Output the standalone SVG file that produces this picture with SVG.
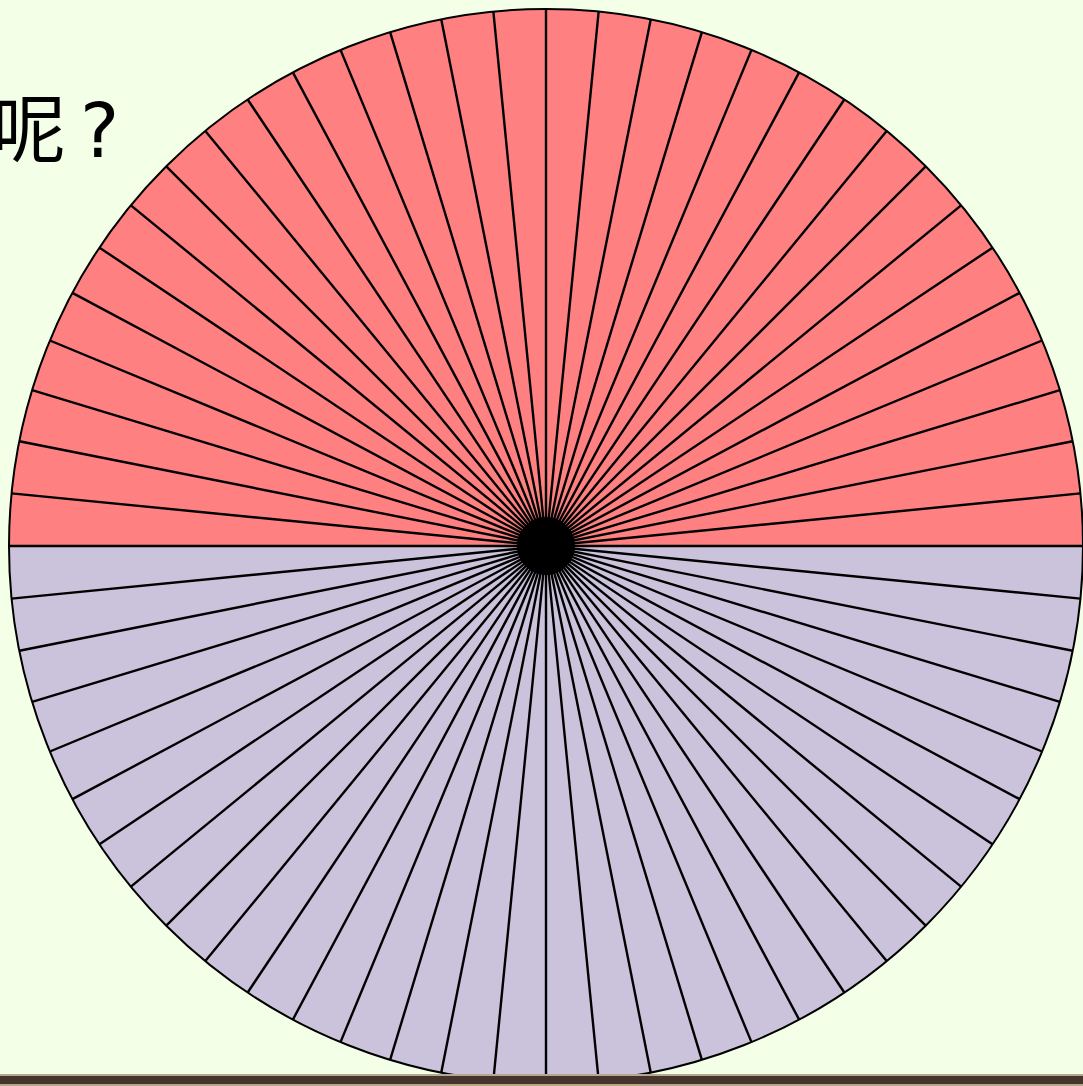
<svg xmlns="http://www.w3.org/2000/svg" width="1083" height="1086" viewBox="0 0 1083 1086">
<style>
.spoke{stroke:#000;stroke-width:2.4}
</style>
<rect width="1083" height="1086" fill="#F4FFE8"/>
<text x="66" y="156" text-anchor="end" font-family="Noto Sans CJK SC, sans-serif" font-size="74" fill="#000">呢</text>
<text x="80" y="157" font-family="DejaVu Sans, sans-serif" font-size="74" fill="#000">?</text>
<g id="circle">
<path d="M9 546 A537 537 0 0 1 1083 546 Z" fill="#FF8080"/>
<path d="M9 546 A537 537 0 0 0 1083 546 Z" fill="#CBC3DB"/>
<g class="spoke">
<line x1="9" y1="546" x2="1083" y2="546"/>
<line x1="9" y1="546" x2="1083" y2="546" transform="rotate(5.625 546 546)"/>
<line x1="9" y1="546" x2="1083" y2="546" transform="rotate(11.25 546 546)"/>
<line x1="9" y1="546" x2="1083" y2="546" transform="rotate(16.875 546 546)"/>
<line x1="9" y1="546" x2="1083" y2="546" transform="rotate(22.5 546 546)"/>
<line x1="9" y1="546" x2="1083" y2="546" transform="rotate(28.125 546 546)"/>
<line x1="9" y1="546" x2="1083" y2="546" transform="rotate(33.75 546 546)"/>
<line x1="9" y1="546" x2="1083" y2="546" transform="rotate(39.375 546 546)"/>
<line x1="9" y1="546" x2="1083" y2="546" transform="rotate(45 546 546)"/>
<line x1="9" y1="546" x2="1083" y2="546" transform="rotate(50.625 546 546)"/>
<line x1="9" y1="546" x2="1083" y2="546" transform="rotate(56.25 546 546)"/>
<line x1="9" y1="546" x2="1083" y2="546" transform="rotate(61.875 546 546)"/>
<line x1="9" y1="546" x2="1083" y2="546" transform="rotate(67.5 546 546)"/>
<line x1="9" y1="546" x2="1083" y2="546" transform="rotate(73.125 546 546)"/>
<line x1="9" y1="546" x2="1083" y2="546" transform="rotate(78.75 546 546)"/>
<line x1="9" y1="546" x2="1083" y2="546" transform="rotate(84.375 546 546)"/>
<line x1="9" y1="546" x2="1083" y2="546" transform="rotate(90 546 546)"/>
<line x1="9" y1="546" x2="1083" y2="546" transform="rotate(95.625 546 546)"/>
<line x1="9" y1="546" x2="1083" y2="546" transform="rotate(101.25 546 546)"/>
<line x1="9" y1="546" x2="1083" y2="546" transform="rotate(106.875 546 546)"/>
<line x1="9" y1="546" x2="1083" y2="546" transform="rotate(112.5 546 546)"/>
<line x1="9" y1="546" x2="1083" y2="546" transform="rotate(118.125 546 546)"/>
<line x1="9" y1="546" x2="1083" y2="546" transform="rotate(123.75 546 546)"/>
<line x1="9" y1="546" x2="1083" y2="546" transform="rotate(129.375 546 546)"/>
<line x1="9" y1="546" x2="1083" y2="546" transform="rotate(135 546 546)"/>
<line x1="9" y1="546" x2="1083" y2="546" transform="rotate(140.625 546 546)"/>
<line x1="9" y1="546" x2="1083" y2="546" transform="rotate(146.25 546 546)"/>
<line x1="9" y1="546" x2="1083" y2="546" transform="rotate(151.875 546 546)"/>
<line x1="9" y1="546" x2="1083" y2="546" transform="rotate(157.5 546 546)"/>
<line x1="9" y1="546" x2="1083" y2="546" transform="rotate(163.125 546 546)"/>
<line x1="9" y1="546" x2="1083" y2="546" transform="rotate(168.75 546 546)"/>
<line x1="9" y1="546" x2="1083" y2="546" transform="rotate(174.375 546 546)"/>
</g>
<circle cx="546" cy="546" r="29" fill="#000"/>
<circle cx="546" cy="546" r="537" fill="none" stroke="#000" stroke-width="2"/>
</g>
<rect x="0" y="1074" width="1083" height="2" fill="#B5A890"/>
<rect x="0" y="1076" width="1083" height="8" fill="#45342B"/>
<rect x="0" y="1084" width="1083" height="2" fill="#B5A38A"/>
</svg>
